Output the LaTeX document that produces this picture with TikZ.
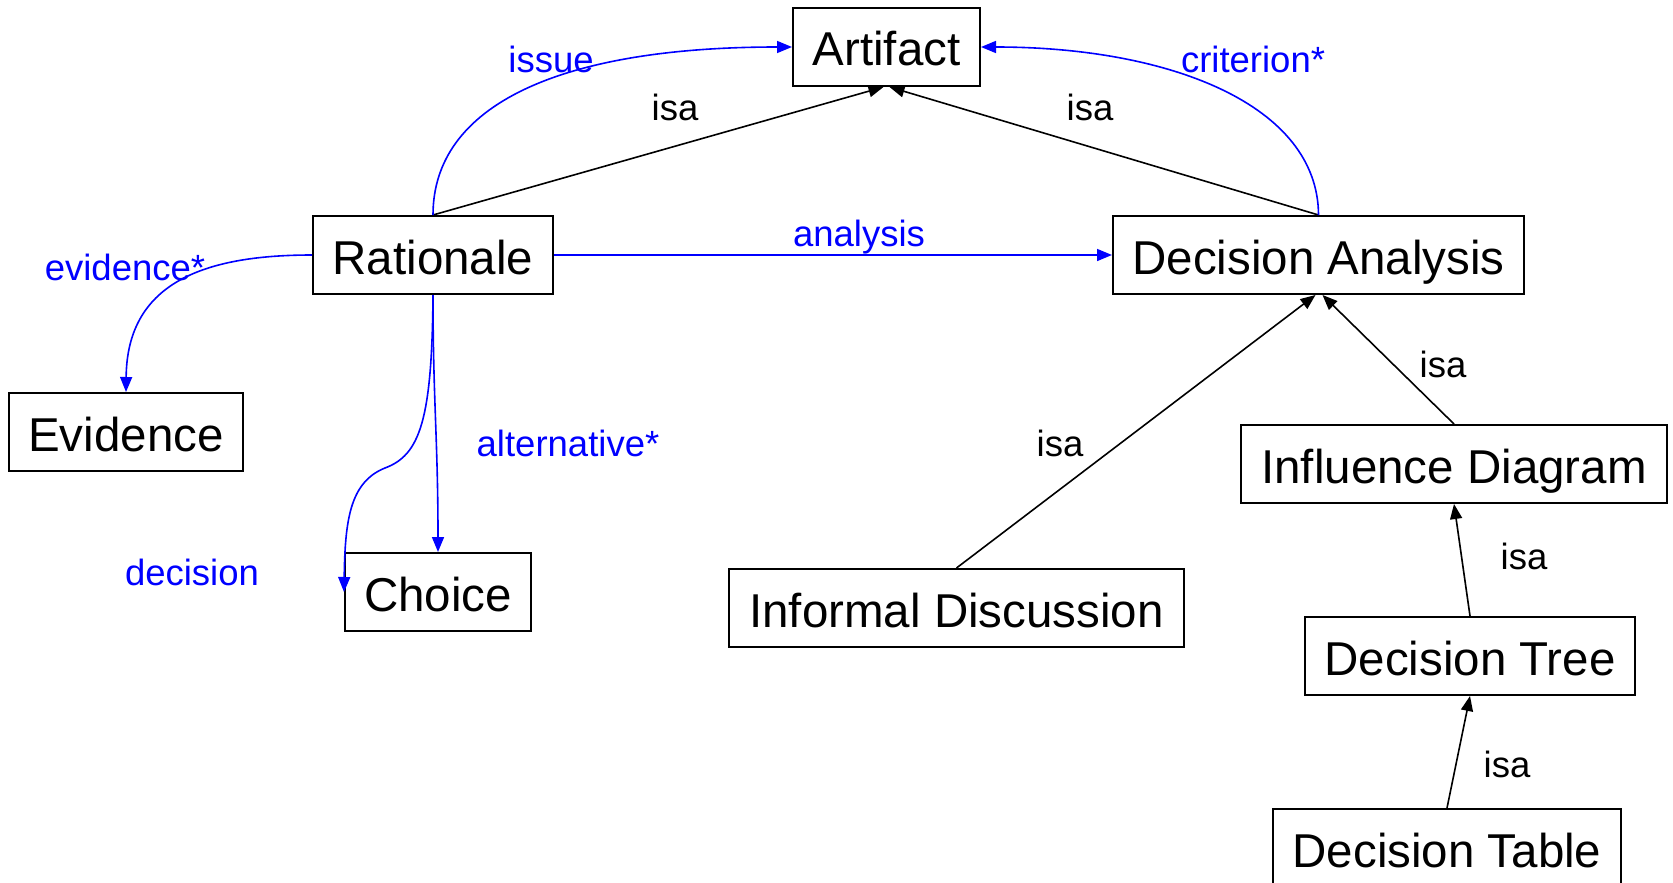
\documentclass[tikz,border=0pt]{standalone}
\usepackage{fontspec}
\setmainfont{Liberation Sans}
\usetikzlibrary{arrows.meta}
\definecolor{linkblue}{RGB}{0,0,255}
\begin{document}
\begin{tikzpicture}[x=1pt,y=-1pt,
  box/.style={draw=black,line width=2pt,inner sep=0pt,minimum height=78pt,
    text height=38pt,text depth=0pt,
    font=\fontsize{47.5}{52}\selectfont,text=black},
  isaarrow/.style={draw=black,line width=1.6pt,-{Triangle[length=15pt,width=12pt]}},
  rel/.style={draw=linkblue,line width=1.6pt,-{Triangle[length=15pt,width=12pt]}},
  isalbl/.style={font=\fontsize{36.5}{40}\selectfont,text=black,inner sep=0pt},
  rellbl/.style={font=\fontsize{36.5}{40}\selectfont,text=linkblue,inner sep=0pt}]
\useasboundingbox (0,0) rectangle (1673,883);
\fill[white] (0,0) rectangle (1673,883);

% boxes
\node[box,minimum width=187pt] (art) at (886.5,47) {Artifact};
\node[box,minimum width=240pt] (rat) at (433,255) {Rationale};
\node[box,minimum width=411pt] (da) at (1318.5,255) {Decision Analysis};
\node[box,minimum width=234pt] (ev) at (126,432) {Evidence};
\node[box,minimum width=186pt] (ch) at (438,592) {Choice};
\node[box,minimum width=455pt] (idisc) at (956.5,608) {Informal Discussion};
\node[box,minimum width=426pt] (infl) at (1454,464) {Influence Diagram};
\node[box,minimum width=330pt] (dtree) at (1470,656) {Decision Tree};
\node[box,minimum width=348pt] (dtab) at (1447,848) {Decision Table};

% isa arrows
\draw[isaarrow] (rat.north) -- ([xshift=-3pt]art.south);
\draw[isaarrow] (da.north) -- ([xshift=3pt]art.south);
\draw[isaarrow] (idisc.north) -- ([xshift=-3pt]da.south);
\draw[isaarrow] (infl.north) -- ([xshift=4pt]da.south);
\draw[isaarrow] (dtree.north) -- (infl.south);
\draw[isaarrow] (dtab.north) -- (dtree.south);

% blue relations
\draw[rel] (rat.north) .. controls (433,105) and (560,47) .. (art.west);
\draw[rel] (da.north) .. controls (1318,105) and (1170,47) .. (art.east);
\draw[rel] (rat.east) -- (da.west);
\draw[rel] (rat.west) .. controls (200,255) and (127,285) .. (ev.north);
\draw[rel] (rat.south) .. controls (433,400) and (438,440) .. (ch.north);
\draw[rel] (rat.south) .. controls (432,420) and (420,455) .. (385,468)
   .. controls (350,482) and (345,520) .. (ch.west);

% labels
\node[isalbl] (l1) at (675,107) {isa};
\node[isalbl] (l2) at (1090,107) {isa};
\node[isalbl] (l3) at (1060,443) {isa};
\node[isalbl] (l4) at (1443,364) {isa};
\node[isalbl] (l5) at (1524,556) {isa};
\node[isalbl] (l6) at (1507,764) {isa};
\node[rellbl] (r1) at (551,59) {issue};
\node[rellbl] (r2) at (1253,59) {criterion*};
\node[rellbl] (r3) at (859,237) {analysis};
\node[rellbl] (r4) at (125,267) {evidence*};
\node[rellbl] (r5) at (568,443) {alternative*};
\node[rellbl] (r6) at (192,572) {decision};
\end{tikzpicture}
\end{document}
